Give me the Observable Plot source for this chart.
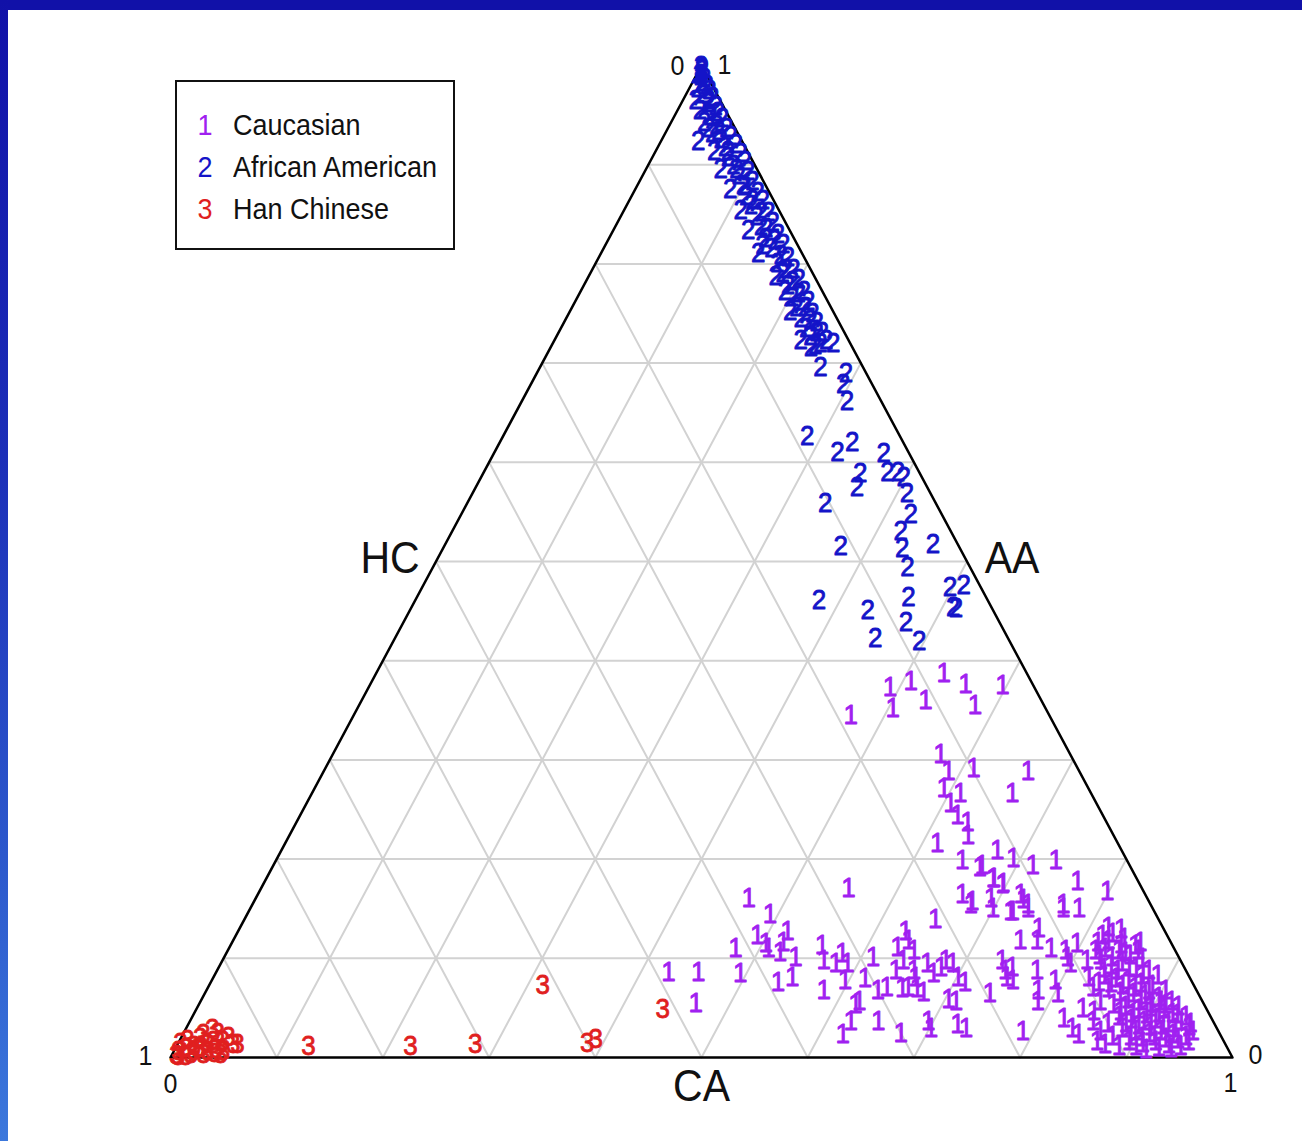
<!DOCTYPE html>
<html>
<head>
<meta charset="utf-8">
<script src="https://cdn.jsdelivr.net/npm/d3@7"></script>
<script src="https://cdn.jsdelivr.net/npm/@observablehq/plot@0.6"></script>
<style>
  html, body { margin: 0; padding: 0; background: #ffffff; }
  #frame { position: relative; width: 1302px; height: 1141px; overflow: hidden; background: #ffffff;
           font-family: "Liberation Sans", Arial, Helvetica, sans-serif; }
  #chart { position: absolute; left: 0; top: 0; }
  #topband { position: absolute; left: 0; top: 0; width: 1302px; height: 10px; background: #1111a8; z-index: 5; }
  #leftband { position: absolute; left: 0; top: 0; width: 8px; height: 1141px; z-index: 5;
              background: linear-gradient(to bottom, #1111a8 0%, #1c2fb8 40%, #2c58cc 75%, #3c78dc 100%); }
  #legend { position: absolute; left: 175px; top: 80px; width: 276px; height: 166px; border: 2px solid #111;
            background: #fff; z-index: 4; }
  .row { position: absolute; left: 0; height: 34px; line-height: 34px; font-size: 27px; color: #111; white-space: nowrap; }
  .row span { display: inline-block; transform: scaleY(1.1); transform-origin: 50% 50%; }
  .row .sym { position: absolute; left: 20px; width: 16px; text-align: center; }
  .row .lab { position: absolute; left: 56px; }
</style>
</head>
<body>
<div id="frame">
  <div id="chart"></div>
  <div id="topband"></div>
  <div id="leftband"></div>
  <div id="legend"></div>
</div>
<script>
// ---- Data (proportions: AA = African American, HC = Han Chinese, CA = 1 - AA - HC) ----
const groupNames = ["Caucasian", "African American", "Han Chinese"];
const groupSymbols = ["1", "2", "3"];
const groupColors = ["#a020f0", "#1414c8", "#e01f1f"];
const axisNames = ["CA", "AA", "HC"];
const gridTicks = [0.1, 0.2, 0.3, 0.4, 0.5, 0.6, 0.7, 0.8, 0.9];

const caucasianAA = [
  0.388,0.380,0.373,0.352,0.360,0.377,0.355,0.375,0.345,0.306,
  0.289,0.292,0.289,0.267,0.272,0.267,0.257,0.244,0.237,0.224,
  0.216,0.199,0.192,0.209,0.201,0.194,0.199,0.181,0.175,0.171,
  0.165,0.158,0.161,0.165,0.155,0.155,0.161,0.145,0.110,0.123,
  0.115,0.110,0.106,0.128,0.116,0.101,0.081,0.076,0.085,0.113,
  0.098,0.095,0.105,0.095,0.078,0.068,0.101,0.080,0.068,0.071,
  0.054,0.057,0.037,0.024,0.037,0.025,0.111,0.128,0.118,0.108,
  0.098,0.088,0.088,0.081,0.070,0.071,0.070,0.066,0.140,0.095,
  0.085,0.091,0.098,0.095,0.030,0.037,0.059,0.057,0.081,0.076,
  0.034,0.030,0.155,0.151,0.148,0.181,0.176,0.194,0.065,0.098,
  0.081,0.091,0.086,0.086,0.055,0.178,0.168,0.151,0.151,0.160,
  0.148,0.151,0.118,0.131,0.118,0.110,0.108,0.115,0.088,0.078,
  0.088,0.068,0.057,0.078,0.065,0.101,0.095,0.027,0.040,0.030,
  0.024,0.098,0.081,0.071,0.050,0.037,0.027,0.014,
  0.123,0.126,0.120,0.113,0.110,0.108,0.103,0.100,0.098,0.093,
  0.096,0.090,0.088,0.083,0.080,0.078,0.075,0.073,0.070,0.066,
  0.065,0.063,0.061,0.054,0.052,0.049,0.051,0.049,0.045,0.042,
  0.039,0.037,0.039,0.035,0.037,0.032,0.030,0.027,0.025,0.027,
  0.024,0.022,0.027,0.017,0.015,0.017,0.014,0.012,0.017,0.022,
  0.057,0.057,0.108,0.132,0.130,0.116,0.083,0.068,0.052,0.035,
  0.012,0.047,0.057,0.009,0.042,
  0.116,0.118,0.114,0.103,0.101,0.106,0.108,0.090,0.088,0.091,
  0.083,0.076,0.075,0.073,0.071,0.068,0.059,0.057,0.055,0.054,
  0.047,0.045,0.044,0.045,0.044,0.035,0.033,0.032,0.033,0.030,
  0.022,0.021,0.022,0.020,0.019,0.017,0.012,0.011,0.010,0.035
];
const caucasianHC = [
  0.078,0.113,0.136,0.144,0.109,0.063,0.065,0.029,0.187,0.122,
  0.123,0.098,0.048,0.074,0.136,0.123,0.137,0.137,0.131,0.137,
  0.170,0.155,0.142,0.117,0.106,0.091,0.067,0.135,0.129,0.276,
  0.172,0.166,0.147,0.117,0.115,0.082,0.375,0.363,0.413,0.386,
  0.382,0.382,0.373,0.355,0.365,0.361,0.374,0.390,0.421,0.330,
  0.336,0.326,0.315,0.315,0.326,0.351,0.288,0.306,0.300,0.290,
  0.328,0.323,0.341,0.355,0.315,0.300,0.260,0.244,0.246,0.246,
  0.261,0.273,0.256,0.258,0.276,0.270,0.262,0.258,0.210,0.240,
  0.239,0.229,0.221,0.216,0.269,0.268,0.238,0.232,0.218,0.214,
  0.242,0.236,0.169,0.150,0.135,0.134,0.128,0.139,0.196,0.168,
  0.172,0.162,0.488,0.460,0.478,0.057,0.034,0.084,0.069,0.117,
  0.133,0.117,0.141,0.117,0.125,0.116,0.103,0.089,0.170,0.168,
  0.140,0.149,0.155,0.128,0.132,0.105,0.105,0.184,0.139,0.136,
  0.133,0.088,0.095,0.096,0.116,0.113,0.111,0.113,
  0.061,0.050,0.042,0.035,0.065,0.053,0.045,0.035,0.075,0.068,
  0.056,0.046,0.035,0.079,0.070,0.059,0.049,0.039,0.082,0.073,
  0.061,0.051,0.039,0.085,0.075,0.064,0.052,0.040,0.034,0.086,
  0.076,0.065,0.053,0.043,0.030,0.025,0.089,0.078,0.066,0.054,
  0.044,0.033,0.024,0.089,0.077,0.064,0.053,0.043,0.119,0.102,
  0.039,0.029,0.075,0.051,0.040,0.029,0.029,0.029,0.025,0.100,
  0.101,0.107,0.096,0.077,0.023,
  0.069,0.058,0.048,0.074,0.063,0.048,0.035,0.076,0.064,0.052,
  0.043,0.088,0.077,0.067,0.056,0.045,0.069,0.058,0.048,0.036,
  0.082,0.071,0.059,0.047,0.030,0.083,0.072,0.061,0.049,0.039,
  0.085,0.075,0.063,0.053,0.042,0.033,0.085,0.064,0.053,0.022
];

const africanAA = [
  0.999,0.995,0.991,0.987,0.983,0.980,0.977,0.975,0.971,0.968,
  0.965,0.962,0.959,0.955,0.953,0.949,0.947,0.943,0.940,0.937,
  0.932,0.929,0.926,0.924,0.921,0.918,0.914,0.912,0.908,0.904,
  0.900,0.896,0.894,0.890,0.884,0.880,0.876,0.872,0.868,0.864,
  0.859,0.854,0.852,0.848,0.842,0.838,0.834,0.830,0.826,0.820,
  0.816,0.811,0.807,0.801,0.795,0.791,0.785,0.779,0.773,0.767,
  0.763,0.757,0.751,0.745,0.741,0.735,0.731,0.727,0.723,0.718,
  0.723,0.753,0.773,
  0.716,0.720,0.720,0.696,0.690,0.679,0.662,0.627,0.610,0.620,
  0.609,0.589,0.575,0.590,0.590,0.585,0.569,0.548,0.559,0.516,
  0.531,0.514,0.494,0.518,0.474,0.476,0.454,0.453,0.461,0.451,
  0.423,0.464,0.439,0.420,
  0.989,0.965,0.934,0.937,0.914,0.896,0.879,0.864,0.852,0.836,
  0.824,0.809,0.795,0.783,0.771,0.757,0.743,0.731,0.819,0.788,
  0.997
];
const africanHC = [
  0.001,0.002,0.006,0.004,0.008,0.005,0.015,0.005,0.013,0.006,
  0.023,0.013,0.007,0.024,0.008,0.017,0.007,0.026,0.016,0.008,
  0.024,0.008,0.019,0.041,0.007,0.019,0.031,0.007,0.021,0.007,
  0.020,0.034,0.009,0.020,0.010,0.021,0.035,0.011,0.024,0.010,
  0.024,0.036,0.011,0.024,0.012,0.025,0.039,0.013,0.027,0.013,
  0.026,0.041,0.015,0.028,0.016,0.028,0.016,0.029,0.017,0.031,
  0.018,0.032,0.020,0.034,0.021,0.034,0.021,0.034,0.021,0.034,
  0.045,0.040,0.035,
  0.039,0.028,0.016,0.040,0.019,0.027,0.032,0.087,0.067,0.048,
  0.024,0.056,0.066,0.030,0.020,0.017,0.022,0.029,0.104,0.111,
  0.047,0.054,0.059,0.023,0.029,0.015,0.036,0.034,0.159,0.118,
  0.125,0.073,0.088,0.085,
  0.006,0.011,0.017,0.025,0.018,0.019,0.020,0.020,0.018,0.021,
  0.019,0.021,0.023,0.023,0.023,0.024,0.026,0.026,0.033,0.036,
  0.001
];

const hanAA = [
  0.012,0.012,0.014,0.015,0.019,0.073,0.049,0.014,0.017,0.025,
  0.009,0.004,0.014,0.010,0.014,0.017,0.007,0.020,0.010,0.004,
  0.015,0.007,0.003,0.010,0.004,0.007,0.007,0.002,0.021,0.029,
  0.012,0.005,0.018,0.002,0.024
];
const hanHC = [
  0.864,0.768,0.706,0.600,0.590,0.613,0.512,0.930,0.942,0.943,
  0.953,0.951,0.958,0.967,0.934,0.951,0.947,0.962,0.969,0.979,
  0.983,0.989,0.993,0.981,0.967,0.975,0.962,0.985,0.935,0.946,
  0.972,0.956,0.975,0.992,0.957
];

// ---- Ternary projection: x = CA + AA/2, y = AA ----
function project(aa, hc) { return {x: 1 - hc - aa / 2, y: aa}; }
function zipGroup(aaArr, hcArr, g) {
  const n = Math.min(aaArr.length, hcArr.length);
  return d3.range(n).map(i => ({...project(aaArr[i], hcArr[i]), g}));
}
const groups = [
  zipGroup(caucasianAA, caucasianHC, 0),
  zipGroup(africanAA, africanHC, 1),
  zipGroup(hanAA, hanHC, 2)
];

// grid lines (constant AA, constant HC, constant CA)
const gridSegs = [];
gridTicks.forEach((t, k) => {
  gridSegs.push({...project(t, 1 - t), id: "a" + k}, {...project(t, 0), id: "a" + k});
  gridSegs.push({...project(0, t), id: "h" + k}, {...project(1 - t, t), id: "h" + k});
  gridSegs.push({...project(0, 1 - t), id: "c" + k}, {...project(1 - t, 0), id: "c" + k});
});
const outline = [project(0, 1), project(0, 0), project(1, 0), project(0, 1)];

const vTop = project(1, 0), vLeft = project(0, 1), vRight = project(0, 0);
const font = "Liberation Sans, Arial, Helvetica, sans-serif";
const lbl = (pt, s, dx, dy, size) =>
  Plot.text([pt], {x: "x", y: "y", text: () => s, dx, dy, fontSize: size, fill: "#111", fontFamily: font});

const plot = Plot.plot({
  width: 1302,
  height: 1141,
  marginLeft: 170,
  marginRight: 70,
  marginTop: 65,
  marginBottom: 84,
  x: {domain: [0, 1], axis: null},
  y: {domain: [0, 1], axis: null},
  style: {background: "transparent", fontFamily: font},
  marks: [
    Plot.line(gridSegs, {x: "x", y: "y", z: "id", stroke: "#d2d2d2", strokeWidth: 2}),
    Plot.line(outline, {x: "x", y: "y", stroke: "#000", strokeWidth: 2.5}),
    ...groups.map((data, g) => Plot.text(data, {
      x: "x", y: "y", text: () => groupSymbols[g], fill: groupColors[g],
      stroke: groupColors[g], strokeWidth: 0.8,
      fontSize: 26, fontFamily: font
    })),
    // vertex value labels
    lbl(vTop, "0", -24, 1, 25),
    lbl(vTop, "1", 23, 0, 25),
    lbl(vLeft, "1", -25, -1, 25),
    lbl(vLeft, "0", 0, 27, 25),
    lbl(vRight, "0", 23, -2, 25),
    lbl(vRight, "1", -2, 26, 25),
    // axis titles
    lbl(project(0.5, 0.5), axisNames[2], -46, -3, 41),
    lbl(project(0.5, 0), axisNames[1], 45, -3, 41),
    lbl({x: 0.5, y: 0}, axisNames[0], 0, 29, 41)
  ]
});
document.getElementById("chart").appendChild(plot);

// the reference's glyphs are slightly taller than wide: stretch each text about its anchor
plot.querySelectorAll("text").forEach(t => {
  const tr = t.getAttribute("transform");
  if (tr && tr.includes("translate")) {
    t.setAttribute("transform", tr + " scale(1,1.08)");
  } else if (t.hasAttribute("x") || t.hasAttribute("y")) {
    const x = +t.getAttribute("x") || 0, y = +t.getAttribute("y") || 0;
    t.setAttribute("x", 0); t.setAttribute("y", 0);
    t.setAttribute("transform", `translate(${x},${y}) scale(1,1.08)` + (tr ? " " + tr : ""));
  }
});

// legend
const legend = document.getElementById("legend");
groupNames.forEach((name, i) => {
  const row = document.createElement("div");
  row.className = "row";
  row.style.top = (26 + i * 42) + "px";
  row.innerHTML = `<span class="sym" style="color:${groupColors[i]}">${groupSymbols[i]}</span><span class="lab">${name}</span>`;
  legend.appendChild(row);
});
</script>
</body>
</html>
